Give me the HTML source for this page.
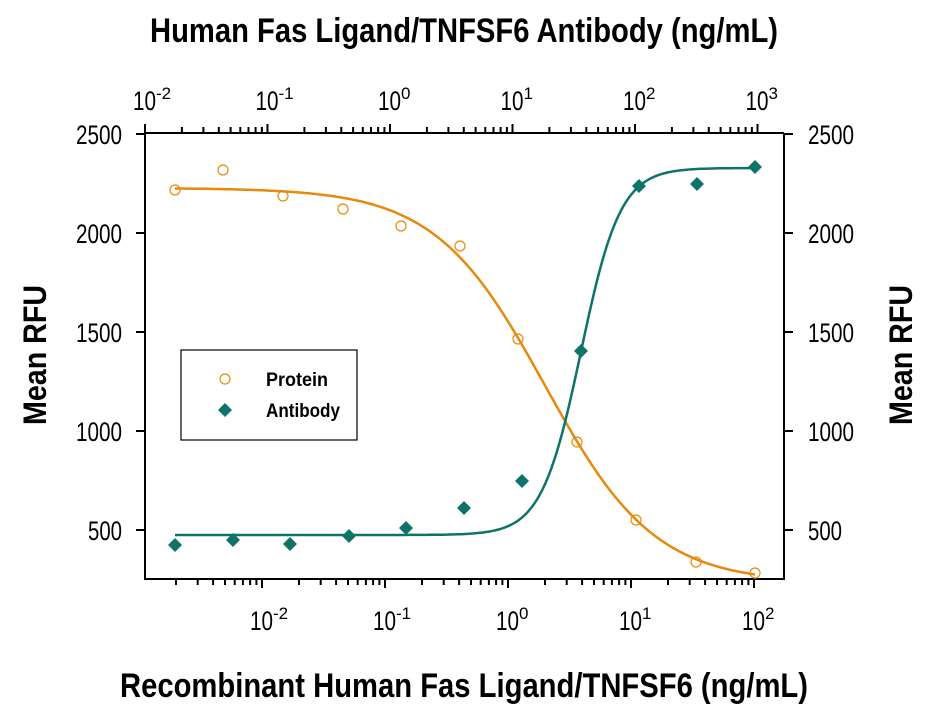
<!DOCTYPE html>
<html><head><meta charset="utf-8"><style>
html,body{margin:0;padding:0;background:#fff;}
svg{display:block;font-family:"Liberation Sans",sans-serif;}
</style></head><body>
<svg id="s" width="929" height="713" viewBox="0 0 929 713" xmlns="http://www.w3.org/2000/svg">
<rect width="929" height="713" fill="#fff"/>
<text x="464" y="42" font-size="34" font-weight="bold" text-anchor="middle" textLength="628" lengthAdjust="spacingAndGlyphs">Human Fas Ligand/TNFSF6 Antibody (ng/mL)</text>
<text x="464" y="697" font-size="34" font-weight="bold" text-anchor="middle" textLength="688" lengthAdjust="spacingAndGlyphs">Recombinant Human Fas Ligand/TNFSF6 (ng/mL)</text>
<text transform="translate(46,355) rotate(-90)" font-size="32" font-weight="bold" text-anchor="middle" textLength="140" lengthAdjust="spacingAndGlyphs">Mean RFU</text>
<text transform="translate(912,355) rotate(-90)" font-size="32" font-weight="bold" text-anchor="middle" textLength="140" lengthAdjust="spacingAndGlyphs">Mean RFU</text>
<g id="ax" stroke="#000" stroke-width="2" fill="none"></g>
<g id="lab" font-size="27" fill="#000"></g>
<rect x="181" y="350" width="176" height="90" fill="#fff" stroke="#000" stroke-width="1.2"/>
<circle cx="225" cy="379" r="5" fill="none" stroke="#e8890c" stroke-width="1.2"/>
<text x="266" y="386" font-size="19" font-weight="bold" textLength="62" lengthAdjust="spacingAndGlyphs">Protein</text>
<path d="M225 403 L232 410 L225 417 L218 410 Z" fill="#0f7369"/>
<text x="266" y="417" font-size="19" font-weight="bold" textLength="74" lengthAdjust="spacingAndGlyphs">Antibody</text>
<g id="cv" fill="none" stroke-width="2.5"></g>
<g id="pts"></g>
</svg>
<script>
var NS="http://www.w3.org/2000/svg";
function el(p,t,a,txt){var e=document.createElementNS(NS,t);for(var k in a)e.setAttribute(k,a[k]);if(txt!==undefined)e.textContent=txt;document.getElementById(p).appendChild(e);return e;}
var L=145,R=784,T=133,B=579;
var d="M"+L+" "+T+"H"+R+"M"+L+" "+T+"V"+B+"H"+R+"V"+T;
for(var e=-3;e<=2;e++)for(var m=1;m<10;m++){var x=508+123*(e+Math.log10(m));if(x<L+2||x>R-2)continue;var len=m==1?9:6;d+="M"+x.toFixed(1)+" "+B+"v"+len;}
for(var e=-2;e<=3;e++)for(var m=1;m<10;m++){var x=390+122.5*(e+Math.log10(m));if(x<L-1||x>R-2)continue;var len=m==1?9:6;d+="M"+x.toFixed(1)+" "+T+"v-"+len;}
function Y(v){return 530-(v-500)*0.198;}
for(var v=500;v<=2500;v+=500){var y=Y(v);d+="M"+L+" "+y+"h-9M"+R+" "+y+"h9";
var w=v<1000?34:46;
el("lab","text",{x:122,y:y+10,"text-anchor":"end",textLength:w,lengthAdjust:"spacingAndGlyphs"},""+v);
el("lab","text",{x:808,y:y+10,textLength:w,lengthAdjust:"spacingAndGlyphs"},""+v);}
el("ax","path",{d:d});
function pw(x,y,e){var t=el("lab","text",{x:x-12,y:y});var a=document.createElementNS(NS,"tspan");a.setAttribute("textLength","23");a.setAttribute("lengthAdjust","spacingAndGlyphs");a.textContent="10";t.appendChild(a);var b=document.createElementNS(NS,"tspan");b.setAttribute("dy","-11");b.setAttribute("font-size","17");b.textContent=e;t.appendChild(b);}
[-2,-1,0,1,2].forEach(function(e){pw(508+123*e,630,""+e);});
[-2,-1,0,1,2,3].forEach(function(e){pw(390+122.5*e,110,""+e);});
function curve(x0,x1,yl,yr,xm,s,col){var p="";for(var x=x0;x<=x1;x+=2){var y=yr+(yl-yr)/(1+Math.exp((x-xm)/s));p+=(p?"L":"M")+x+" "+y.toFixed(1);}el("cv","path",{d:p,stroke:col});}
curve(175,755,188,583,545,55,"#e8890c");
curve(175,755,535,168,581,19.7,"#0f7369");
var P=[[175,190],[223,170],[283,196],[343,209],[401,226],[460,246],[518,339],[577,442],[636,520],[696,562],[755,573]];
P.forEach(function(p){el("pts","circle",{cx:p[0],cy:p[1],r:5,fill:"none",stroke:"#e8890c","stroke-width":1.2});});
var A=[[175,545],[233,540],[290,544],[349,536],[406,528],[464,508],[522,481],[581,351],[639,186],[697,184],[755,167]];
A.forEach(function(p){el("pts","path",{d:"M"+p[0]+" "+(p[1]-7)+"L"+(p[0]+7)+" "+p[1]+"L"+p[0]+" "+(p[1]+7)+"L"+(p[0]-7)+" "+p[1]+"Z",fill:"#0f7369"});});
</script>
</body></html>
